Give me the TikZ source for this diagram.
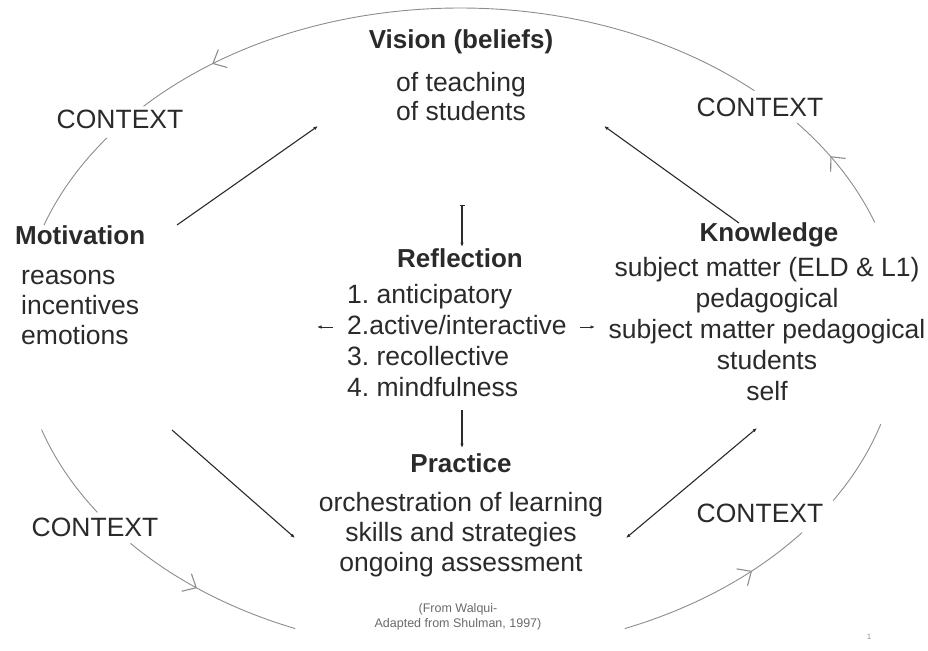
\documentclass[tikz,border=0pt]{standalone}
\usepackage{fontspec}
\setmainfont{Liberation Sans}
\usetikzlibrary{arrows.meta,decorations.markings,calc}
\definecolor{ink}{HTML}{2A2A2A}
\definecolor{arcgray}{HTML}{8C8C8C}
\definecolor{notegray}{HTML}{6A6A6A}
\frenchspacing
\begin{document}
\begin{tikzpicture}[x=1pt, y=-1pt, >={Latex[length=4.5pt,width=3.5pt]}]
    \tikzstyle{txt}=[inner sep=0pt, text=ink, font=\fontsize{26.5}{30}\selectfont]
    \tikzstyle{head}=[txt, font=\fontsize{26}{30}\selectfont\bfseries]
    \tikzstyle{context}=[txt]
    \tikzstyle{link}=[draw=ink, line width=1.1pt]
    \tikzstyle{ctx}=[draw=arcgray, line width=0.9pt]
    \tikzstyle{ctxarrow}=[ctx, postaction={decorate}, decoration={markings, mark=at position #1 with {\arrow{Straight Barb[length=11pt,width=20pt,line width=1.1pt]}}}]
    \useasboundingbox (0,0) rectangle (928,650);

    \node[head] (vision) at (461,42) {Vision (beliefs)};
    \node[txt, anchor=west, align=left, font=\fontsize{26.5}{29}\selectfont] (visionlist) at (396,97) {of teaching\\of students};
    \node[head, anchor=west] (motiv) at (15,235) {Motivation};
    \node[txt, anchor=west, align=left] (motivlist) at (21,307) {reasons\\incentives\\emotions};
    \node[head] (know) at (769,235) {Knowledge};
    \node[txt, align=center, font=\fontsize{26.5}{31}\selectfont] (knowlist) at (767,329) {subject matter (ELD \& L1)\\pedagogical\\subject matter pedagogical\\students\\self};
    \node[head] (reflect) at (460,258) {Reflection};
    \node[txt, anchor=west, align=left, font=\fontsize{26.5}{31}\selectfont] (reflectlist) at (347,341) {1. anticipatory\\2.active/interactive\\3. recollective\\4. mindfulness};
    \node[head] (practice) at (461,463) {Practice};
    \node[txt, align=center] (practicelist) at (461,535) {orchestration of learning\\skills and strategies\\ongoing assessment};
    \node[inner sep=0pt, text=notegray, align=center, font=\fontsize{12.5}{15}\selectfont] (source) at (458,617) {(From Walqui-\\Adapted from Shulman, 1997)};
    \node[inner sep=0pt, text=notegray!70, font=\fontsize{8}{9}\selectfont] (pagenum) at (869,637) {1};

    \node[context] (ctxtl) at (120,119) {CONTEXT};
    \node[context] (ctxtr) at (760,107) {CONTEXT};
    \node[context] (ctxbl) at (95,527) {CONTEXT};
    \node[context] (ctxbr) at (760,513) {CONTEXT};

    \coordinate (motivA) at (177,225);
    \coordinate (visionA) at (318,126);
    \coordinate (knowA) at (739,223);
    \coordinate (visionB) at (604,126);
    \coordinate (visionC) at (462,205);
    \coordinate (reflectA) at (462,247);
    \coordinate (reflectB) at (462,410);
    \coordinate (practiceA) at (462,448);
    \coordinate (leftA) at (333,327);
    \coordinate (leftB) at (317,327);
    \coordinate (rightA) at (580,327);
    \coordinate (rightB) at (595,327);
    \coordinate (motivB) at (172,430);
    \coordinate (practiceB) at (295,538);
    \coordinate (practiceC) at (626,538);
    \coordinate (knowB) at (757,428);
    \coordinate (centre) at (460,330);

    \draw[link, ->] (motivA) -- (visionA);
    \draw[link, ->] (knowA) -- (visionB);
    \draw[link, {Bar[width=5pt]}->] (visionC) -- (reflectA);
    \draw[link, ->] (reflectB) -- (practiceA);
    \draw[link, line width=0.9pt, ->] (leftA) -- (leftB);
    \draw[link, line width=0.9pt, ->] (rightA) -- (rightB);
    \draw[link, ->] (motivB) -- (practiceB);
    \draw[link, <->] (practiceC) -- (knowB);

    \draw[ctxarrow=0.63] (centre) ++(19.5:440pt and 322pt) arc[start angle=19.5, end angle=40, x radius=440pt, y radius=322pt];
    \draw[ctxarrow=0.875] (centre) ++(48:440pt and 322pt) arc[start angle=48, end angle=136, x radius=440pt, y radius=322pt];
    \draw[ctx] (centre) ++(143.4:440pt and 322pt) arc[start angle=143.4, end angle=161, x radius=440pt, y radius=322pt];
    \draw[ctx] (centre) ++(198:440pt and 322pt) arc[start angle=198, end angle=214.5, x radius=440pt, y radius=322pt];
    \draw[ctxarrow=0.43] (centre) ++(221.5:440pt and 322pt) arc[start angle=221.5, end angle=248, x radius=440pt, y radius=322pt];
    \draw[ctxarrow=0.69] (centre) ++(292:440pt and 322pt) arc[start angle=292, end angle=321, x radius=440pt, y radius=322pt];
    \draw[ctx] (centre) ++(328:440pt and 322pt) arc[start angle=328, end angle=343, x radius=440pt, y radius=322pt];
\end{tikzpicture}
\end{document}
